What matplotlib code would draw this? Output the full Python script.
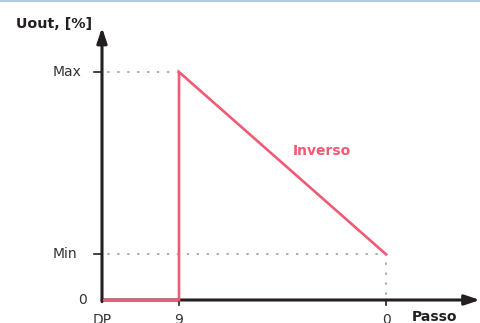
import matplotlib.pyplot as plt
from matplotlib.lines import Line2D

# step positions on the x axis (DP, 9, 0) and output levels
x_labels = ['DP', '9', '0']
x_pos = [0, 1, 3.69]
y_labels = ['0', 'Min', 'Max']
y_vals = [0, 20, 100]

# the "Inverso" curve: off until step 9, then Max falling to Min at step 0
curve_x = [x_pos[0], x_pos[1], x_pos[1], x_pos[2]]
curve_y = [y_vals[0], y_vals[0], y_vals[2], y_vals[1]]

red = '#ef5a74'
dark = '#231f20'
grey = '#939393'
txt = '#333333'

fig = plt.figure(figsize=(4.81, 3.23), dpi=100)
ax = fig.add_axes([0, 0, 1, 1])
ax.set_xlim(-102 / 77, 379 / 77)
ax.set_ylim(-23 / 2.28, 300 / 2.28)
ax.axis('off')

# thin light-blue border on top
fig.add_artist(Line2D([0, 1], [0.998, 0.998], transform=fig.transFigure,
                      color='#b3cde0', lw=1.5))

# dotted guides
dots = (3, (1.5, 5.0))
ax.plot([0, x_pos[1]], [y_vals[2], y_vals[2]], ls=dots, color=grey, lw=1.1)
ax.plot([0, x_pos[2]], [y_vals[1], y_vals[1]], ls=dots, color=grey, lw=1.1)
ax.plot([x_pos[2], x_pos[2]], [0, y_vals[1]], ls=dots, color=grey, lw=1.1)

# axes with arrows
ax.annotate('', xy=(0, 119.5), xytext=(0, -0.7),
            arrowprops=dict(arrowstyle='-|>,head_length=0.9,head_width=0.3',
                            color=dark, lw=2.2, shrinkA=0, shrinkB=0))
ax.annotate('', xy=(378 / 77, 0), xytext=(0, 0),
            arrowprops=dict(arrowstyle='-|>,head_length=0.9,head_width=0.3',
                            color=dark, lw=2.2, shrinkA=0, shrinkB=0))

# tick marks
for yv in y_vals[1:]:
    ax.plot([-8 / 77, 0], [yv, yv], color=dark, lw=1.2)
for xv in x_pos[1:]:
    ax.plot([xv, xv], [0, -5 / 2.28], color=dark, lw=1.2)

ax.plot([x_pos[0] + 0.03] + curve_x[1:], curve_y, color=red, lw=1.9,
        solid_joinstyle='miter', zorder=5)

# labels
ax.text(-49 / 77, y_vals[2], y_labels[2], ha='left', va='center', fontsize=10, color=txt)
ax.text(-49 / 77, y_vals[1], y_labels[1], ha='left', va='center', fontsize=10, color=txt)
ax.text(-15 / 77, y_vals[0], y_labels[0], ha='right', va='center', fontsize=10, color=txt)
for xv, lab in zip(x_pos, x_labels):
    ax.text(xv, -5.5, lab, ha='center', va='top', fontsize=10, color=txt)
ax.text(4.02, -4.2, 'Passo', ha='left', va='top', fontsize=10, fontweight='bold', color=dark)
ax.text(-10 / 77, 121, 'Uout, [%]', ha='right', va='center', fontsize=10.3,
        fontweight='bold', color=dark)
ax.text(2.86, 65.4, 'Inverso', ha='center', va='center', fontsize=10,
        fontweight='bold', color=red)

fig.savefig('out.png', dpi=100)
